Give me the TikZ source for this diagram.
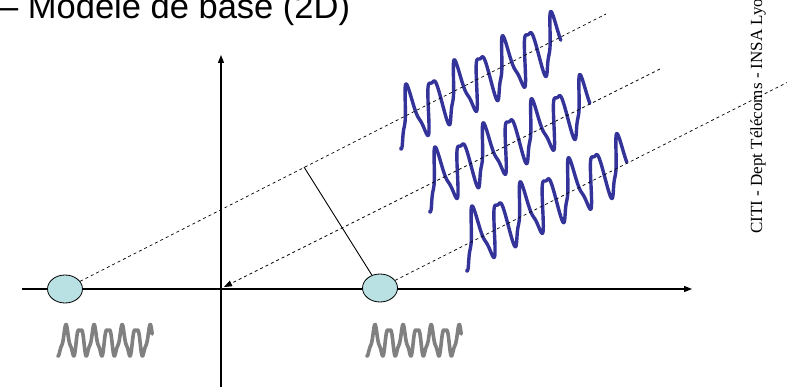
\documentclass[tikz,border=0pt]{standalone}
\usepackage{fontspec}
\setmainfont{Liberation Sans}
\newfontfamily\serifcc{Liberation Serif}
\usetikzlibrary{arrows.meta,shapes.geometric}
\definecolor{wblue}{RGB}{51,51,153}
\definecolor{wgrey}{RGB}{128,128,128}
\definecolor{cyanfill}{RGB}{185,224,227}
\begin{document}
\begin{tikzpicture}[x=1pt,y=-1pt,
  axis/.style={line width=1.1pt, -{Triangle[length=8pt,width=6pt]}},
  ray/.style={dash pattern=on 3pt off 3pt, line width=0.7pt},
  rayarrow/.style={ray, -{Triangle[length=8pt,width=6pt]}},
  perp/.style={line width=0.9pt},
  antenna/.style={ellipse, draw, line width=0.8pt, fill=cyanfill, minimum width=35pt, minimum height=28pt, inner sep=0pt},
  bwave/.style={wblue, line width=3.4pt, line join=round, line cap=round},
  gwave/.style={wgrey, line width=3.6pt, line join=round, line cap=round},
  declare function={f(\t)=sin(\t)+0.22*sin(2.5*\t-135);}
]
\useasboundingbox (0,0) rectangle (787,387);
\clip (0,0) rectangle (787,387);

% title and side text
\node[anchor=base west, inner sep=0pt, font=\fontsize{34.5}{40}\selectfont] (title) at (-1,19) {– Modèle de base (2D)};
\node[rotate=90, anchor=base west, inner sep=0pt, font=\serifcc\fontsize{17}{20}\selectfont] (footer) at (762,234) {CITI - Dept Télécoms - INSA Lyon};

% axes
\coordinate (xl) at (22,289);
\coordinate (xr) at (692,289);
\coordinate (yb) at (221,392);
\coordinate (yt) at (221,55);
\draw[axis] (xl) -- (xr);
\draw[axis] (yb) -- (yt);

% antennas
\node[antenna] (e1) at (65,289) {};
\node[antenna] (e2) at (380,288) {};

% grey transmitted signals
\foreach \ox in {62.5,371.5}{
  \draw[gwave] plot[domain=-120:2300, samples=600] ({\ox + 0.039*\x}, {341 - 13.5*f(\x)});
}

% blue propagated waves
\foreach \ox/\oy in {404.5/117.5, 433.5/180.5, 470.5/239.5}{
  \draw[bwave] plot[domain=-120:2330, samples=700]
    ({\ox + 0.075*0.894*\x - 0.15*25*f(\x)}, {\oy - 0.075*0.447*\x - 25*f(\x)});
}

% rays
\coordinate (r1) at (606,14);
\coordinate (r2s) at (660,69);
\coordinate (r2e) at (224,287);
\coordinate (r3) at (792,80);
\coordinate (c1) at (304,167);
\draw[ray] (e1) -- (r1);
\draw[rayarrow] (r2s) -- (r2e);
\draw[ray] (e2) -- (r3);
\draw[perp] (c1) -- (e2);
\end{tikzpicture}
\end{document}
